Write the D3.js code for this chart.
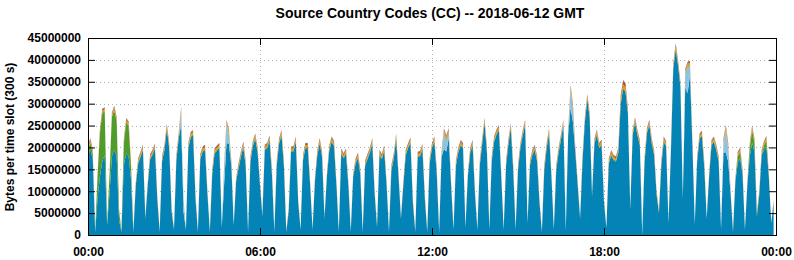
<!DOCTYPE html>
<html>
<head>
<meta charset="utf-8">
<script src="https://cdn.jsdelivr.net/npm/d3@7"></script>
<style>
  body { margin: 0; background: #fff; }
  text { font-family: "Liberation Sans", Arial, Helvetica, sans-serif; font-weight: bold; }
</style>
</head>
<body>
<svg id="chart" width="794" height="260"></svg>
<script>
// one value per 300 s slot, in millions of bytes (288 slots = 24 h)
var title = "Source Country Codes (CC) -- 2018-06-12 GMT";
var yLabel = "Bytes per time slot (300 s)";
var xTickLabels = ["00:00", "06:00", "12:00", "18:00", "00:00"];
var yTicks = [0, 5000000, 10000000, 15000000, 20000000, 25000000, 30000000, 35000000, 40000000, 45000000];

var blue = [
  18.1,19.6,17.3,0.7,8.4,13.4,16.9,18.2,2.3,9.4,18.0,19.5,18.0,3.4,0.7,16.0,18.7,18.0,12.8,0.7,11.3,16.3,17.8,19.4,
  3.7,11.3,17.3,18.3,19.7,8.3,0.7,16.8,19.4,24.2,19.8,5.3,1.2,17.1,22.3,25.1,5.3,1.2,19.8,22.3,22.8,8.3,0.7,17.3,
  19.0,19.4,9.3,0.7,13.8,18.6,19.3,19.8,1.7,11.8,21.1,20.8,15.8,2.2,12.3,15.2,17.8,20.1,15.8,0.7,16.8,20.3,22.0,18.8,
  11.3,4.3,19.4,19.8,21.6,13.8,0.7,15.8,20.9,22.8,15.8,0.7,5.3,19.0,19.1,21.3,7.3,1.2,17.1,19.8,19.9,11.3,1.2,12.3,
  18.2,20.9,17.8,3.7,13.3,19.3,21.3,20.3,11.3,0.7,18.6,17.5,18.6,11.3,0.7,13.3,16.3,17.6,13.8,0.7,15.8,17.3,18.8,20.9,
  9.3,1.7,18.2,17.3,19.3,11.3,0.7,14.8,17.5,21.9,13.3,3.7,11.3,18.3,19.8,21.1,7.3,0.7,17.8,18.0,19.6,8.3,0.7,16.3,
  19.8,21.3,13.8,0.7,17.8,19.7,19.1,22.2,11.3,1.2,15.8,18.8,20.5,19.8,1.7,13.3,18.8,20.5,9.3,1.2,15.8,20.8,25.5,18.8,
  1.2,16.8,21.3,22.9,23.9,13.3,1.2,15.8,20.8,24.3,14.8,1.2,14.8,19.8,22.8,25.1,2.7,15.8,18.3,19.4,16.8,7.3,0.7,14.8,
  19.8,23.2,13.3,1.2,14.8,18.8,21.8,25.1,1.2,22.8,29.1,25.8,18.8,11.3,3.7,16.8,25.8,31.0,26.8,8.8,20.8,22.9,19.8,20.6,
  7.3,1.6,16.3,18.2,17.1,16.8,18.8,30.0,33.4,32.7,27.8,5.8,22.8,25.7,22.8,20.5,0.2,16.8,23.3,25.1,20.8,18.2,9.3,5.0,
  15.9,21.3,20.3,2.7,18.8,38.0,42.4,38.8,33.8,8.3,33.8,32.4,36.6,20.8,2.4,16.8,22.0,22.6,15.2,3.7,13.3,20.5,21.3,19.4,
  16.8,1.2,18.8,18.9,16.8,9.3,0.7,12.3,16.5,17.5,13.8,1.2,11.3,17.9,21.0,19.0,4.3,9.3,18.2,19.5,20.1,13.3,2.7,7.3
];

var lightblue = [
  0,0,0,0,0,0,0,0,0,0,0,0,0,0,0,0,0,0,0,0,0,0,0,0,
  0,0,0,0,0,0,0,0,0,0,0,0,0,0,0,3,2,0,0,0,0,0,0,0,
  0,0,0,0,0,0,0,0,0,3,4,2,0,0,0,0,0,0,0,0,0,0,0,0,
  0,0,0,0,0,0,0,0,0,0,0,0,0,0,0,0,0,0,0,0,0,0,0,0,
  0,0,0,0,0,0,0,0,0,0,0,0,0,0,0,0,0,0,0,0,0,0,0,0,
  0,0,0,0,0,0,0,0,0,0,0,0,0,0,0,0,0,0,0,0,0,0,0,0,
  0,0,0,0,0,3.5,2.5,1,0,0,0,0,0,0,0,0,0,0,0,0,0,0,0,0,
  0,0,0,0,0,0,0,0,0,0,0,0,0,0,0,0,0,0,0,0,0,0,0,0,
  0,0,0,0,0,0,0,0,2,0,4,3,0,0,0,0,0,0,0,0,0,0,0,0,
  0,0,0,0,0,0,0,0,0,0,0,0,0,0,0,0,1,0,0,0,0,0,0,0,
  0,0,0,0,0,0,0,0,0,0,3,6,2,0,0,0,0,0,0,0,0,0,0,0,
  0,0,2,5,3,0,0,0,0,0,0,0,0,0,0,0,0,0,0,0,0,0,0,0
];

var green = [
  1.5,1.5,1.2,.1,5,10,11,10,.5,4,9,9,8,2,.1,5,7,7,3,.1,.1,.2,.2,.2,
  .1,.1,.2,.2,.2,.1,.1,.2,.2,.2,.2,.1,.1,.2,.2,.2,.1,.1,.2,.2,.2,.1,.1,.2,
  .2,.2,.1,.1,.2,.2,.2,.2,.1,.2,.2,.2,.2,.1,.1,.2,.2,.2,.2,.1,.2,.2,.2,.2,
  .1,.1,.2,.2,.2,.2,.1,.2,.2,.2,.2,.1,.1,.2,.2,.2,.1,.1,.2,.2,.2,.1,.1,.1,
  .2,.2,.2,.1,.1,.2,.2,.2,.1,.1,.2,.2,.2,.1,.1,.1,.2,.2,.2,.1,.2,.2,.2,.2,
  .1,.1,.2,.2,.2,.1,.1,.2,.2,.2,.1,.1,.1,.2,.2,.2,.1,.1,.2,.2,.2,.1,.1,.2,
  .2,.2,.2,.1,.2,.2,.2,.2,.1,.1,.2,.2,.2,.2,.1,.1,.2,.2,.1,.1,.2,.2,.2,.2,
  .1,.2,.2,.2,.2,.1,.1,.2,.2,.2,.2,.1,.2,.2,.2,.2,.1,.2,.2,.2,.2,.1,.1,.2,
  .2,.2,.1,.1,.2,.2,.2,.2,.1,.2,.2,.2,.2,.1,.1,.2,.2,.2,.2,.1,.2,.2,.2,.2,
  .1,.1,.2,.2,.2,.2,.2,.2,.2,.2,.2,.1,.2,.2,.2,.2,.1,.2,.2,.2,.2,.2,.1,.1,
  .2,.2,.2,.1,.2,.2,.2,.2,.2,.1,.2,.2,.2,.2,.1,.2,.2,.2,.2,.1,.1,.2,.2,.2,
  .2,.1,.2,.2,.2,.1,.1,.1,1.5,1.5,.2,.1,.1,2,3,2,.1,.1,.2,1,1.5,.1,.1,.1
];

var orange = [
  .5,.5,.5,.1,.3,.5,.5,.5,.1,.3,.5,.5,.5,.3,.1,.5,.5,.5,.5,.1,.3,.5,.5,.5,
  .1,.3,.5,.5,.5,.3,.1,.5,.5,.5,.5,.3,.1,.5,.5,.5,.3,.1,.5,.5,.5,.3,.1,.5,
  .5,.5,.3,.1,.5,.5,.5,.5,.1,.5,.5,.5,.5,.1,.3,.5,.5,.5,.5,.1,.5,.5,.5,.5,
  .3,.3,.5,.5,.5,.5,.1,.5,.5,.5,.5,.1,.3,.5,.5,.5,.3,.1,.5,.5,.5,.3,.1,.3,
  .5,.5,.5,.1,.3,.5,.5,.5,.3,.1,.5,.5,.5,.3,.1,.3,.5,.5,.5,.1,.5,.5,.5,.5,
  .3,.1,.5,.5,.5,.3,.1,.5,.5,.5,.3,.1,.3,.5,.5,.5,.3,.1,.5,.5,.5,.3,.1,.5,
  .5,.5,.5,.1,.5,.5,.5,.5,.3,.1,.5,.5,.5,.5,.1,.3,.5,.5,.3,.1,.5,.5,.5,.5,
  .1,.5,.5,.5,.5,.3,.1,.5,.5,.5,.5,.1,.5,.5,.5,.5,.1,.5,.5,.5,.5,.3,.1,.5,
  .5,.5,.3,.1,.5,.5,.5,.5,.1,.5,.5,.5,.5,.3,.1,.5,.5,.5,.5,.3,.5,.5,.5,.5,
  .3,.1,.5,.5,.5,.5,.5,.8,.8,.8,.5,.3,.5,.5,.5,.5,.1,.5,.5,.5,.5,.5,.3,.3,
  .5,.5,.5,.1,.5,.5,.5,.5,.5,.3,.5,.5,.5,.5,.1,.5,.5,.5,.5,.1,.3,.5,.5,.5,
  .5,.1,.5,.5,.5,.3,.1,.3,.5,.5,.5,.1,.3,.5,.5,.5,.3,.3,.5,.5,.5,.3,.1,.3
];

var red = [
  .3,.3,.3,.1,.2,.3,.3,.3,.1,.2,.3,.3,.3,.2,.1,.3,.3,.3,.3,.1,.2,.3,.3,.3,
  .1,.2,.3,.3,.3,.2,.1,.3,.3,.3,.3,.2,.1,.3,.3,.3,.2,.1,.3,.3,.3,.2,.1,.3,
  .3,.3,.2,.1,.3,.3,.3,.3,.1,.3,.3,.3,.3,.1,.2,.3,.3,.3,.3,.1,.3,.3,.3,.3,
  .2,.2,.3,.3,.3,.3,.1,.3,.3,.3,.3,.1,.2,.3,.3,.3,.2,.1,.3,.3,.3,.2,.1,.2,
  .3,.3,.3,.1,.2,.3,.3,.3,.2,.1,.3,.3,.3,.2,.1,.2,.3,.3,.3,.1,.3,.3,.3,.3,
  .2,.1,.3,.3,.3,.2,.1,.3,.3,.3,.2,.1,.2,.3,.3,.3,.2,.1,.3,.3,.3,.2,.1,.3,
  .3,.3,.3,.1,.3,.3,.3,.3,.2,.1,.3,.3,.3,.3,.1,.2,.3,.3,.2,.1,.3,.3,.3,.3,
  .1,.3,.3,.3,.3,.2,.1,.3,.3,.3,.3,.1,.3,.3,.3,.3,.1,.3,.3,.3,.3,.2,.1,.3,
  .3,.3,.2,.1,.3,.3,.3,.3,.1,.3,.3,.3,.3,.2,.1,.3,.3,.3,.3,.2,.3,.3,.3,.3,
  .2,.1,.3,.3,.3,.3,.3,.8,.8,.8,.3,.2,.3,.3,.3,.3,.1,.3,.3,.3,.3,.3,.2,.2,
  .3,.3,.3,.1,.3,.3,.5,.3,.3,.2,.3,.3,.3,.3,.1,.3,.3,.3,.3,.1,.2,.3,.3,.3,
  .3,.1,.3,.3,.3,.2,.1,.2,.3,.3,.3,.1,.2,.3,.3,.3,.2,.2,.3,.3,.3,.2,.1,.2
];

var gray = [
  .2,.2,.2,0,.1,.2,.2,.2,0,.1,.2,.2,.2,.1,0,.2,.2,.2,.2,0,.1,.2,.2,.2,
  0,.1,.2,.2,.2,.1,0,.2,.2,.2,.2,.1,0,.2,.2,.2,.1,0,.2,.2,.2,.1,0,.2,
  .2,.2,.1,0,.2,.2,.2,.2,0,.2,.2,.2,.2,0,.1,.2,.2,.2,.2,0,.2,.2,.2,.2,
  .1,.1,.2,.2,.2,.2,0,.2,.2,.2,.2,0,.1,.2,.2,.2,.1,0,.2,.2,.2,.1,0,.1,
  .2,.2,.2,0,.1,.2,.2,.2,.1,0,.2,.2,.2,.1,0,.1,.2,.2,.2,0,.2,.2,.2,.2,
  .1,0,.2,.2,.2,.1,0,.2,.2,.2,.1,0,.1,.2,.2,.2,.1,0,.2,.2,.2,.1,0,.2,
  .2,.2,.2,0,.2,.2,.2,.2,.1,0,.2,.2,.2,.2,0,.1,.2,.2,.1,0,.2,.2,.2,.2,
  0,.2,.2,.2,.2,.1,0,.2,.2,.2,.2,0,.2,.2,.2,.2,0,.2,.2,.2,.2,.1,0,.2,
  .2,.2,.1,0,.2,.2,.2,.2,0,.2,.2,.2,.2,.1,0,.2,.2,.2,.2,.1,.2,.2,.2,.2,
  .1,0,.2,.2,.2,.2,.2,.2,.2,.2,.2,.1,.2,.2,.2,.2,0,.2,.2,.2,.2,.2,.1,.1,
  .2,.2,.2,0,.2,.2,.2,.2,.2,.1,.2,.2,.2,.2,0,.2,.2,.2,.2,0,.1,.2,.2,.2,
  .2,0,.2,.2,.2,.1,0,.1,.2,.2,.2,0,.1,.2,.2,.2,.1,.1,.2,.2,.2,.1,0,.1
];

var keys = ["blue", "lightblue", "green", "orange", "red", "gray"];
var colors = {
  blue: "#0484b6",
  lightblue: "#8ec4e2",
  green: "#4f9b2c",
  orange: "#e99a06",
  red: "#bd4a1c",
  gray: "#6a6a6a"
};

var series = { blue: blue, lightblue: lightblue, green: green, orange: orange, red: red, gray: gray };
var t0 = Date.UTC(2018, 5, 12);
var rows = blue.map(function(v, i) {
  var r = { time: new Date(t0 + i * 300000) };
  keys.forEach(function(k) { r[k] = series[k][i] * 1e6; });
  return r;
});

var svg = d3.select("#chart");
var plotLeft = 88, plotRight = 776, plotTop = 38, plotBottom = 235;

var x = d3.scaleUtc()
  .domain([new Date(t0), new Date(t0 + 24 * 3600000)])
  .range([plotLeft, plotRight]);
var y = d3.scaleLinear().domain([0, 45000000]).range([plotBottom, plotTop]);
var xTicks = d3.range(0, 5).map(function(i) { return new Date(t0 + i * 6 * 3600000); });

// grid
var grid = svg.append("g").attr("stroke", "#b0b0b0").attr("stroke-dasharray", "1,3");
grid.selectAll("line.gy").data(yTicks.slice(1, -1)).enter().append("line")
  .attr("x1", plotLeft).attr("x2", plotRight)
  .attr("y1", function(d) { return Math.round(y(d)) + 0.5; })
  .attr("y2", function(d) { return Math.round(y(d)) + 0.5; });
grid.selectAll("line.gx").data(xTicks.slice(1, -1)).enter().append("line")
  .attr("y1", plotTop).attr("y2", plotBottom)
  .attr("x1", function(d) { return Math.round(x(d)) + 0.5; })
  .attr("x2", function(d) { return Math.round(x(d)) + 0.5; });

// stacked areas
var stacked = d3.stack().keys(keys)(rows);
var area = d3.area()
  .x(function(d) { return x(d.data.time); })
  .y0(function(d) { return y(d[0]); })
  .y1(function(d) { return y(d[1]); });

svg.append("g").selectAll("path").data(stacked).enter().append("path")
  .attr("d", area)
  .attr("fill", function(d) { return colors[d.key]; });

// axes
var fmt = d3.format("d");
svg.append("g").attr("transform", "translate(" + plotLeft + ",0)")
  .call(d3.axisLeft(y).tickValues(yTicks).tickFormat(fmt).tickSize(-7).tickPadding(7));
svg.append("g").attr("transform", "translate(" + plotRight + ",0)")
  .call(d3.axisRight(y).tickValues(yTicks).tickFormat("").tickSize(-7));
svg.append("g").attr("transform", "translate(0," + plotBottom + ")")
  .call(d3.axisBottom(x).tickValues(xTicks)
    .tickFormat(function(d, i) { return xTickLabels[i]; })
    .tickSize(-7).tickPadding(12));
svg.append("g").attr("transform", "translate(0," + plotTop + ")")
  .call(d3.axisTop(x).tickValues(xTicks).tickFormat("").tickSize(-7));

svg.selectAll(".domain").remove();
svg.selectAll(".tick line").attr("stroke", "#000");
svg.selectAll(".tick text").attr("font-size", 12).attr("fill", "#000")
  .attr("font-family", "Liberation Sans, Arial, sans-serif").attr("font-weight", "bold");

svg.append("rect")
  .attr("x", plotLeft + 0.5).attr("y", plotTop + 0.5)
  .attr("width", plotRight - plotLeft).attr("height", plotBottom - plotTop)
  .attr("fill", "none").attr("stroke", "#000");

// labels
svg.append("text")
  .attr("x", 430).attr("y", 18)
  .attr("text-anchor", "middle").attr("font-size", 14)
  .text(title);

svg.append("text")
  .attr("transform", "translate(14,137) rotate(-90)")
  .attr("text-anchor", "middle").attr("font-size", 12)
  .text(yLabel);
</script>
</body>
</html>
